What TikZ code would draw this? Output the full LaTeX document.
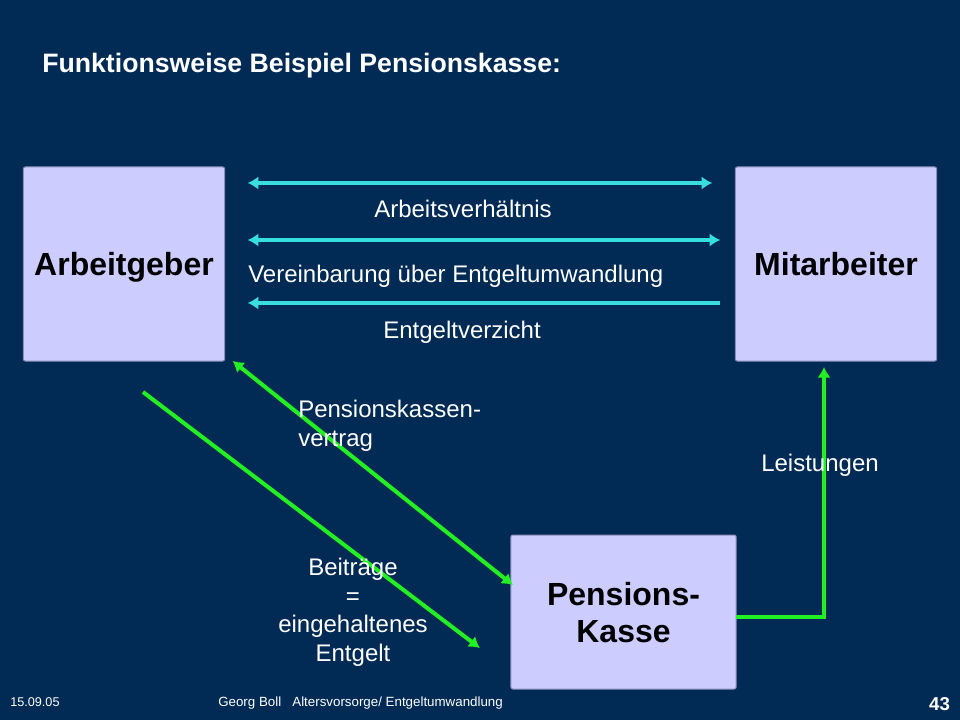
\documentclass[tikz,border=0pt]{standalone}
\usepackage{fontspec}
\setmainfont{Liberation Sans}
\usepackage{tikz}
\usetikzlibrary{positioning, calc}
\usetikzlibrary{arrows.meta}
\tikzset{>={Latex[width=10pt,length=8pt]}}
\definecolor{slidebg}{RGB}{1,42,84}
\definecolor{boxfill}{RGB}{204,204,255}
\definecolor{boxedge}{RGB}{140,140,185}
\definecolor{flowcyan}{RGB}{56,222,222}
\definecolor{flowgreen}{RGB}{34,240,34}

\begin{document}
\begin{tikzpicture}[x=0.75pt, y=-0.75pt, party/.style={rectangle, rounded corners=1.5pt, draw=boxedge, fill=boxfill, line width=0.75pt, minimum width=151pt, minimum height=145.5pt, outer sep=0pt, text depth=0pt, align=center, font=\fontsize{24}{27.75}\selectfont\bfseries}, flowtext/.style={text=white, inner sep=0pt, font=\fontsize{18}{21.5}\selectfont}, cyanflow/.style={draw=flowcyan, line width=3pt}, greenflow/.style={draw=flowgreen, line width=3pt}]

    %Background
    \fill[slidebg] (0,0) rectangle (960,720);
    \useasboundingbox (0,0) rectangle (960,720);

    %Nodes
    \node[flowtext, anchor=base west, font=\fontsize{20}{24}\selectfont\bfseries](title) at (42,73){Funktionsweise Beispiel Pensionskasse:};
    \node[party](arbeitgeber) at (124,264){Arbeitgeber};
    \node[party](mitarbeiter) at (836,264){Mitarbeiter};
    \node[party, minimum width=169pt, minimum height=115.5pt](kasse) at (623.5,612){Pensions-\\Kasse};

    %Lines
    \draw[cyanflow, <->, shorten <=17.25pt, shorten >=17.25pt] ($(arbeitgeber.east)+(0,-81)$) -- ($(mitarbeiter.west)+(0,-81)$);
    \draw[cyanflow, <->, shorten <=17.25pt, shorten >=11.25pt] ($(arbeitgeber.east)+(0,-24)$) -- ($(mitarbeiter.west)+(0,-24)$);
    \draw[cyanflow, ->, shorten <=11.25pt, shorten >=17.25pt] ($(mitarbeiter.west)+(0,39)$) -- ($(arbeitgeber.east)+(0,39)$);
    \draw[greenflow, <->] ($(arbeitgeber.south east)+(8,0)$) -- ($(kasse.north west)+(2,50)$);
    \draw[greenflow, ->] ($(arbeitgeber.south)+(19,31)$) -- ($(kasse.south west)+(-31,-41)$);
    \draw[greenflow, ->] ($(kasse.east)+(0,5)$) -| ($(mitarbeiter.south)+(-12,6)$);

    %Labels
    \node[flowtext, anchor=base](verhaeltnis) at (463,218){Arbeitsverhältnis};
    \node[flowtext, anchor=base west](vereinbarung) at (248,283){Vereinbarung über Entgeltumwandlung};
    \node[flowtext, anchor=base](verzicht) at (462,338){Entgeltverzicht};
    \node[flowtext, anchor=north west, align=left](vertrag) at (298,400){Pensionskassen-\\vertrag};
    \node[flowtext, anchor=north, align=center](beitraege) at (353,558){Beiträge\\=\\eingehaltenes\\Entgelt};
    \node[flowtext, anchor=base](leistungen) at (820,471){Leistungen};

    %Footer
    \node[flowtext, anchor=base west, font=\fontsize{9.5}{11}\selectfont](datum) at (10,706){15.09.05};
    \node[flowtext, anchor=base west, font=\fontsize{10}{12}\selectfont](thema) at (218,706){Georg Boll\ \ \ Altersvorsorge/ Entgeltumwandlung};
    \node[flowtext, anchor=base, font=\fontsize{14}{16}\selectfont\bfseries](seite) at (939.5,710){43};

\end{tikzpicture}
\end{document}
